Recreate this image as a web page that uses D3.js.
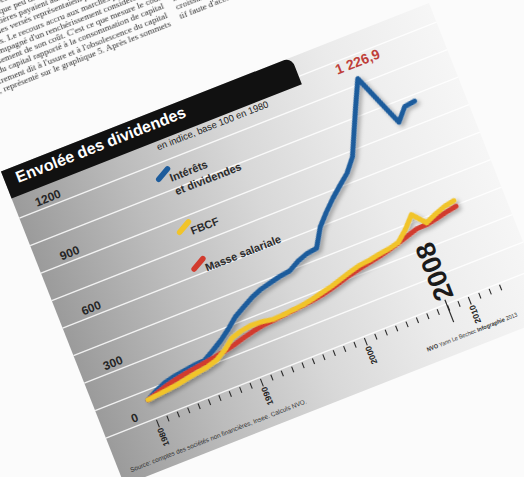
<!DOCTYPE html>
<html><head><meta charset="utf-8">
<script src="https://cdn.jsdelivr.net/npm/d3@7"></script>
<style>html,body{margin:0;padding:0;background:#fff;overflow:hidden}</style>
</head><body>
<svg id="c" width="524" height="477"></svg>
<script>
// ---------- data ----------
const years = d3.range(1980, 2013);
const interets = [100,128,150,163,170,178,182,212,245,285,330,360,390,412,425,438,445,475,495,502,595,655,708,755,800,868,990,1110,1226.9,1085,945,1008,1015];
const fbcf     = [100,106,112,118,128,137,145,160,192,235,252,260,258,248,250,255,260,270,283,295,312,328,342,348,358,365,378,425,485,418,442,462,472];
const masse    = [100,116,132,145,155,163,170,178,188,200,215,228,238,242,247,253,258,264,273,285,300,315,327,337,348,360,375,392,408,410,420,432,442];
const yTicks = [0,300,600,900,1200];
const gridValues = [0,150,300,450,600,750,900,1050,1200,1350];
const xTickYears = d3.range(1980, 2014);
const xLabelYears = [1980,1990,2000,2010];
const seriesNames = [["Intérêts","et dividendes"],["FBCF"],["Masse salariale"]];
const title = "Envolée des dividendes";
const subtitle = "en indice, base 100 en 1980";
const peakLabel = "1 226,9";
const markerYear = 2008;
const source = "Source: comptes des sociétés non financières, Insee. Calculs NVO.";
const credit = [["NVO ",true],["Yann Le Bechec ",false],["Infographie ",true],["2013",false]];
const pageLeft = [
 "res n'a cessé de croître depuis trente ans au détriment de l'investissement",
 "productif des entreprises, quelque peu délaissé au profit de la finance. Si",
 "en 1980 les sociétés non financières payaient autant d'intérêts que de divi-",
 "dendes, en 2012, les dividendes versés représentaient plus de deux fois et",
 "demie fois le montant des intérêts. Le recours accru aux marchés pour assurer",
 "son financement s'est accompagné d'un renchérissement considérable de",
 "celui-ci, d'un renchérissement de son coût. C'est ce que mesure le coût",
 "financier du capital rapporté à la consommation de capital",
 "fixe, autrement dit à l'usure et à l'obsolescence du capital",
 "productif, représenté sur le graphique 5. Après les sommets"
];
const pageRight = [
 "ne s'est pas traduite par une reprise de la",
 "croissance de l'investissement productif, ac-",
 "tif faute d'accumulation."
];

// ---------- layout (chart frame, then rotated like the photo) ----------
const svg = d3.select("#c");
const defs = svg.append("defs");
const grad = defs.append("linearGradient").attr("id","pg").attr("gradientUnits","userSpaceOnUse")
  .attr("x1",-62).attr("y1",0).attr("x2",398).attr("y2",0);
[[0,"#9b9b9b"],[0.25,"#bcbcbc"],[0.5,"#d8d8d8"],[0.75,"#ebebeb"],[1,"#f6f6f6"]]
  .forEach(([o,c])=>grad.append("stop").attr("offset",o).attr("stop-color",c));
const sh = defs.append("filter").attr("id","sh").attr("x","-10%").attr("y","-10%").attr("width","130%").attr("height","130%");
sh.append("feDropShadow").attr("dx",2).attr("dy",3).attr("stdDeviation",2).attr("flood-color","#000").attr("flood-opacity",0.3);
const soft = defs.append("filter").attr("id","soft");
soft.append("feGaussianBlur").attr("stdDeviation",0.4);

svg.append("rect").attr("width",524).attr("height",477).attr("fill","#fbfbfb");

const g = svg.append("g").attr("transform","rotate(-21.5)");

// magazine body text
const pt = g.append("g").attr("filter","url(#soft)")
  .style("font-family","'Liberation Serif','DejaVu Serif',serif").style("font-size","9.2px").attr("fill","#333");
pageLeft.forEach((s,i)=>{
  pt.append("text").attr("x",150).attr("y",87 - (pageLeft.length-1-i)*9.3)
    .attr("text-anchor","end").text(s);
});
pageRight.forEach((s,i)=>{
  pt.append("text").attr("x",161).attr("y",65 + i*9.3).text(s);
});

const panelL = -62, panelR = 398, panelT = 160, panelB = 497;
g.append("rect").attr("x",panelL).attr("y",panelT).attr("width",panelR-panelL).attr("height",panelB-panelT)
  .attr("fill","url(#pg)");

const x = d3.scaleLinear().domain([1980,2010]).range([-8.8,326.4]);
const y = d3.scaleLinear().domain([0,1200]).range([446,209.6]);

// gridlines
const gg = g.append("g").attr("transform",`translate(${panelL},0)`)
  .call(d3.axisLeft(y).tickValues(gridValues).tickSize(-(panelR-panelL)).tickFormat(""));
gg.select(".domain").remove();
gg.selectAll(".tick line").attr("stroke","#fff").attr("stroke-width",1.4).attr("stroke-opacity",0.85);

// title bar
const barR = 250, barT = 160, barB = 189, rr = 10;
g.append("path").attr("d",`M${panelL},${barT}H${barR-rr}Q${barR},${barT} ${barR},${barT+rr}V${barB}H${panelL}Z`).attr("fill","#111");
g.append("text").attr("x",-50).attr("y",177).attr("fill","#fff")
  .style("font-family","'Liberation Sans',Arial,sans-serif").style("font-weight","bold").style("font-size","16px").text(title);
g.append("text").attr("x",92).attr("y",198).attr("fill","#222")
  .style("font-family","'Liberation Sans',Arial,sans-serif").style("font-size","9.5px").text(subtitle);

// y labels
const gy = g.append("g").attr("transform","translate(-28,0)")
  .call(d3.axisLeft(y).tickValues(yTicks).tickSize(0).tickPadding(0).tickFormat(d3.format("d")));
gy.select(".domain").remove();
gy.selectAll(".tick text").attr("x",0).attr("y",-8.5).attr("dy","0.35em").attr("text-anchor","middle")
  .attr("fill","#262626").style("font-family","'Liberation Sans',Arial,sans-serif").style("font-weight","bold").style("font-size","12px");

// x axis
const axisTop = 448;
const gx = g.append("g").attr("transform",`translate(0,${axisTop})`)
  .call(d3.axisBottom(x).tickValues(xTickYears).tickSize(6).tickFormat(d => xLabelYears.includes(d) ? d : ""));
gx.select(".domain").remove();
gx.selectAll(".tick line").attr("stroke","#2a2a2a").attr("stroke-width",1.1).attr("y2", d => xLabelYears.includes(d) ? 8 : 6);
gx.selectAll(".tick text").attr("transform","rotate(-90)").attr("x",-9).attr("y",0).attr("dy","0.35em")
  .attr("text-anchor","end").attr("fill","#1e1e1e")
  .style("font-family","'Liberation Sans',Arial,sans-serif").style("font-weight","bold").style("font-size","8.5px");

// 2008 marker
const mx = x(markerYear);
g.append("line").attr("x1",mx).attr("x2",mx).attr("y1",442).attr("y2",466).attr("stroke","#2a2a2a").attr("stroke-width",1.2);
g.append("text").attr("transform",`translate(${mx},442) rotate(-90)`).attr("dy","0.36em").attr("fill","#1a1a1a")
  .style("font-family","'Liberation Sans Narrow','Liberation Sans',Arial,sans-serif").style("font-weight","bold").style("font-size","27px")
  .text(markerYear);

// series lines
const colors = ["#1d5c9c","#f1c42a","#d23b2e"];
const line = d3.line().x((d,i)=>x(years[i])).y(d=>y(d));
const lg = g.append("g").attr("filter","url(#sh)");
[[interets,colors[0]],[masse,colors[2]],[fbcf,colors[1]]].forEach(([s,c])=>{
  lg.append("path").attr("d",line(s)).attr("fill","none").attr("stroke",c).attr("stroke-width",5)
    .attr("stroke-linejoin","round").attr("stroke-linecap","round");
});

// peak label
const pi = interets.indexOf(d3.max(interets));
g.append("text").attr("x",x(years[pi])+6).attr("y",y(interets[pi])-11).attr("text-anchor","middle")
  .attr("fill","#bf3f3a").style("font-family","'Liberation Sans',Arial,sans-serif").style("font-weight","bold").style("font-size","14px")
  .text(peakLabel);

// legend
const legB = [232,289,328.5];
const leg = g.append("g").style("font-family","'Liberation Sans',Arial,sans-serif").style("font-weight","bold").style("font-size","11px");
seriesNames.forEach((lines,i)=>{
  leg.append("line").attr("x1",82).attr("y1",legB[i]-7).attr("x2",94).attr("y2",legB[i]-13.5)
    .attr("stroke",colors[i]).attr("stroke-width",5.5).attr("stroke-linecap","round");
  const t = leg.append("text").attr("x",93).attr("y",legB[i]).attr("fill","#2b2b2b");
  lines.forEach((l,j)=>t.append("tspan").attr("x",93).attr("dy", j ? 14.5 : 0).text(l));
});

// source and credit
g.append("text").attr("x",-51).attr("y",487.5).attr("textLength",189).attr("lengthAdjust","spacingAndGlyphs")
  .attr("fill","#333").style("font-family","'Liberation Sans',Arial,sans-serif").style("font-size","6.5px").text(source);
const cr = g.append("text").attr("x",269).attr("y",484).attr("textLength",97).attr("lengthAdjust","spacingAndGlyphs")
  .attr("fill","#333").style("font-family","'Liberation Sans',Arial,sans-serif").style("font-size","6px");
credit.forEach(([s,b])=>cr.append("tspan").style("font-weight",b?"bold":"normal").text(s));
</script>
</body></html>
